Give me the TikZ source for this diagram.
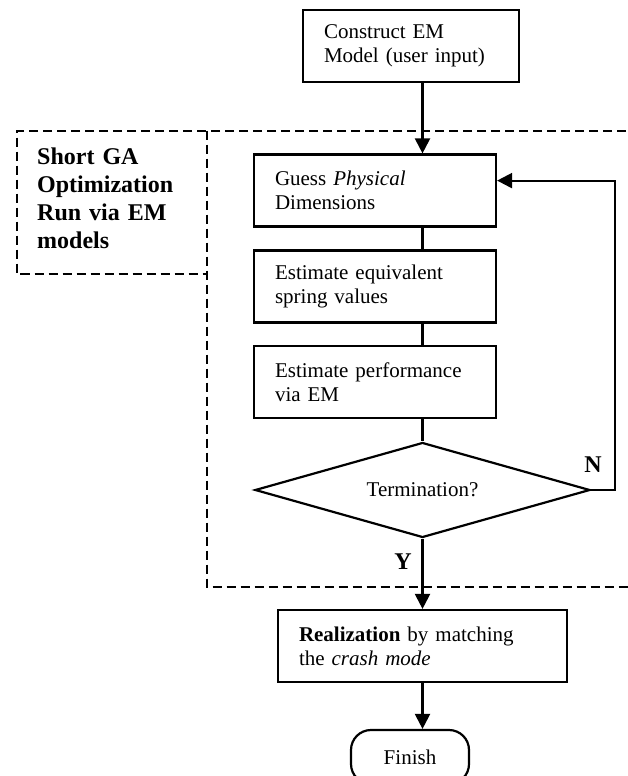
\documentclass[tikz,border=0pt]{standalone}
\usepackage{fontspec}
\setmainfont{Liberation Serif}
\usetikzlibrary{arrows.meta,shapes.geometric}
\begin{document}
\begin{tikzpicture}[x=1pt,y=-1pt,
  every node/.style={font=\fontsize{21}{24}\selectfont},
  box/.style={draw, line width=2.2pt, minimum height=72pt, inner xsep=21pt, inner ysep=0pt, align=left},
  conn/.style={line width=2.2pt},
  arr/.style={line width=2.2pt, -{Triangle[length=15pt,width=15pt]}},
  dsh/.style={line width=2pt, dash pattern=on 9pt off 5pt},
  lbl/.style={font=\bfseries\fontsize{24}{28}\selectfont, inner sep=0pt}]
\useasboundingbox (0,0) rectangle (628,776);
% dashed region
\draw[dsh] (640,130.5) -- (17,130.5) -- (17,274) -- (207,274);
\draw[dsh] (207,130.5) -- (207,587) -- (640,587);
\node[lbl, text width=180pt, align=left, anchor=north west] (gal) at (37,147.5) {Short GA\\Optimization\\Run via EM\\models};
% nodes
\node[box, text width=174pt, minimum width=216pt] (cons) at (411,46) {Construct EM\\Model (user input)};
\node[box, text width=200pt, minimum width=242pt] (guess) at (375,190.5) {Guess \textit{Physical}\\Dimensions};
\node[box, text width=200pt, minimum width=242pt] (spring) at (375,286.5) {Estimate equivalent\\spring values};
\node[box, text width=200pt, minimum width=242pt] (perf) at (375,382) {Estimate performance\\via EM};
\node[diamond, draw, line width=2.2pt, aspect=3.5, minimum width=335pt, minimum height=95pt, inner sep=0pt] (term) at (422.5,490) {Termination?};
\node[box, text width=247pt, minimum width=289pt] (real) at (422.5,646) {\textbf{Realization} by matching\\the \textit{crash mode}};
\node[draw, line width=2.2pt, rounded corners=20pt, minimum width=118pt, minimum height=54pt] (fin) at (410,757) {Finish};
\coordinate (fb) at (615,180.6);
% connectors
\draw[arr] (cons.south -| term.north) -- (guess.north -| term.north);
\draw[conn] (guess.south -| term.north) -- (spring.north -| term.north);
\draw[conn] (spring.south -| term.north) -- (perf.north -| term.north);
\draw[conn] (perf.south -| term.north) -- (term.north);
\draw[arr] (term.east) -| (fb) -- (fb -| guess.east);
\draw[arr] (term.south) -- (real.north -| term.south);
\draw[arr] (real.south -| term.south) -- (fin.north -| term.south);
\node[lbl] (nlab) at (593,465) {N};
\node[lbl] (ylab) at (403,562) {Y};
\end{tikzpicture}
\end{document}
